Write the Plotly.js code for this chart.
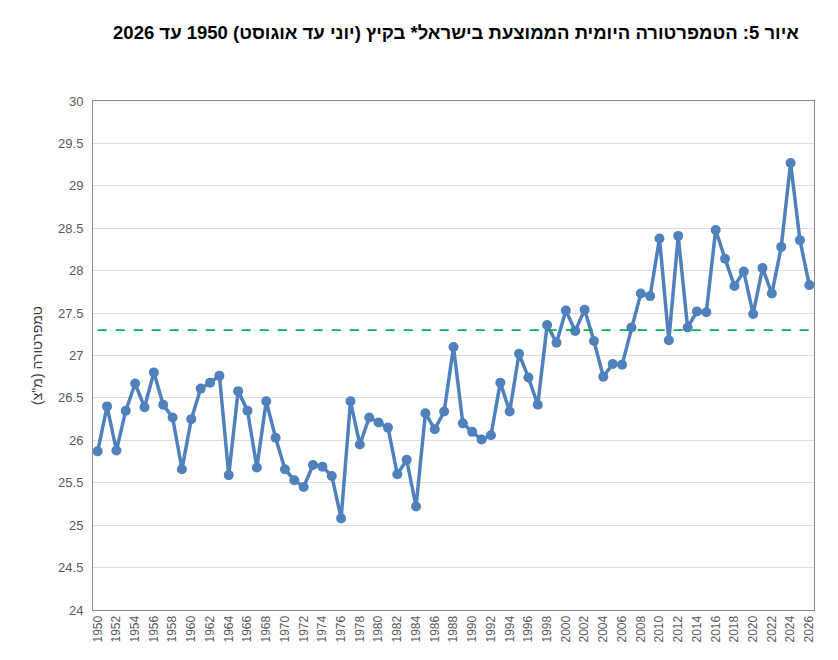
<!DOCTYPE html>
<html>
<head>
<meta charset="utf-8">
<script src="https://cdn.plot.ly/plotly-3.0.1.min.js"></script>
<style>
  body { margin: 0; background: #fff; }
  #chart { width: 838px; height: 660px; }
</style>
</head>
<body>
<div id="chart"></div>
<script>
// summer (Jun-Aug) mean daily temperature in Israel
var years = [];
for (var y = 1950; y <= 2026; y++) years.push(y);

var temps = [
  25.87, 26.40, 25.88, 26.35, 26.67, 26.39, 26.80, 26.42, 26.27, 25.66,
  26.25, 26.61, 26.68, 26.76, 25.59, 26.58, 26.35, 25.68, 26.46, 26.03,
  25.66, 25.53, 25.45, 25.71, 25.69, 25.58, 25.08, 26.46, 25.95, 26.27,
  26.21, 26.15, 25.60, 25.77, 25.22, 26.32, 26.13, 26.34, 27.10, 26.20,
  26.10, 26.01, 26.06, 26.68, 26.34, 27.02, 26.74, 26.42, 27.36, 27.15,
  27.53, 27.29, 27.54, 27.17, 26.75, 26.90, 26.89, 27.33, 27.73, 27.70,
  28.38, 27.18, 28.41, 27.33, 27.52, 27.51, 28.48, 28.14, 27.82, 27.99,
  27.49, 28.03, 27.73, 28.28, 29.27, 28.36, 27.83
];

var refYears = [1950, 2026];
var refTemp = [27.3, 27.3];

var tickYears = years.filter(function(y) { return y % 2 === 0; });
var yTicks = [24, 24.5, 25, 25.5, 26, 26.5, 27, 27.5, 28, 28.5, 29, 29.5, 30];

var titleText = 'איור 5: הטמפרטורה היומית הממוצעת בישראל* בקיץ (יוני עד אוגוסט) 1950 עד 2026';
var yTitle = 'טמפרטורה (מ"צ)';

var trace1 = {
  x: years,
  y: temps,
  type: 'scatter',
  mode: 'lines+markers',
  line: { color: '#4f81bd', width: 3.5 },
  marker: { color: '#4f81bd', size: 10 },
  hoverinfo: 'x+y'
};

var trace2 = {
  x: refYears,
  y: refTemp,
  type: 'scatter',
  mode: 'lines',
  line: { color: '#00b050', width: 1.8, dash: 'dash' },
  hoverinfo: 'skip'
};

var layout = {
  width: 838,
  height: 660,
  margin: { l: 93, r: 24, t: 101, b: 50 },
  paper_bgcolor: '#ffffff',
  plot_bgcolor: '#ffffff',
  showlegend: false,
  font: { family: 'Liberation Sans, Arial, sans-serif', color: '#595959' },
  title: {
    text: titleText,
    font: { family: 'Liberation Sans, Arial, sans-serif', size: 18.5, color: '#000000', weight: 'bold' },
    x: 456 / 838,
    xanchor: 'center',
    y: 1 - 33 / 660,
    yanchor: 'middle'
  },
  xaxis: {
    range: [1949.5, 2026.5],
    tickvals: tickYears,
    ticktext: tickYears.map(String),
    tickangle: -90,
    tickfont: { size: 12, color: '#595959' },
    showgrid: false,
    zeroline: false,
    showline: true,
    mirror: true,
    linecolor: '#898989',
    linewidth: 1,
    ticks: ''
  },
  yaxis: {
    range: [24, 30],
    tickvals: yTicks,
    ticktext: yTicks.map(String),
    tickfont: { size: 13, color: '#595959' },
    showgrid: true,
    gridcolor: '#dcdcdc',
    gridwidth: 1,
    zeroline: false,
    showline: true,
    mirror: true,
    linecolor: '#898989',
    linewidth: 1,
    ticks: '',
    ticklabelstandoff: 6,
    title: {
      text: yTitle,
      font: { size: 14, color: '#404040' },
      standoff: 12
    }
  }
};

Plotly.newPlot('chart', [trace1, trace2], layout, { displayModeBar: false });
</script>
</body>
</html>
